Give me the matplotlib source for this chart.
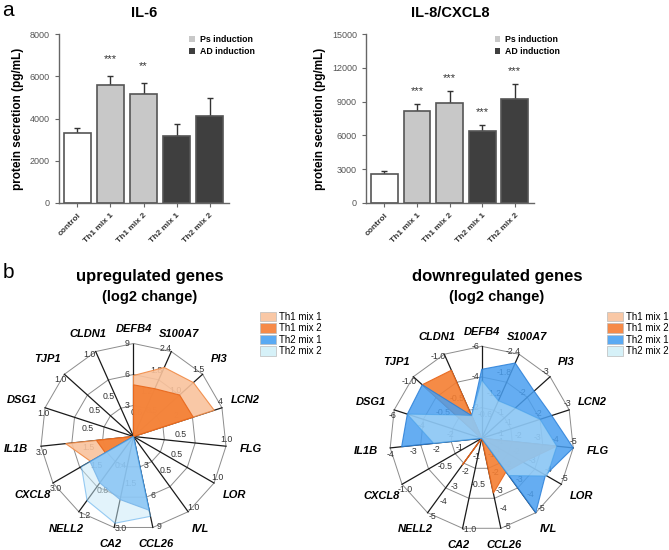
import numpy as np
import matplotlib.pyplot as plt
from matplotlib.patches import Patch

plt.rcParams['font.family'] = ['Liberation Sans', 'DejaVu Sans']

W, H = 669, 550

# ---- panel a: secreted cytokines ----
groups = ['control', 'Th1 mix 1', 'Th1 mix 2', 'Th2 mix 1', 'Th2 mix 2']
bar_colors = ['white', '#c8c8c8', '#c8c8c8', '#3f3f3f', '#3f3f3f']

il6_mean = [3300, 5570, 5150, 3190, 4100]
il6_err = [240, 420, 520, 540, 850]
il6_stars = ['', '***', '**', '', '']

il8_mean = [2560, 8160, 8870, 6430, 9200]
il8_err = [240, 650, 1100, 530, 1360]
il8_stars = ['', '***', '***', '***', '***']

# ---- panel b: radar charts ----
genes = ['DEFB4', 'S100A7', 'PI3', 'LCN2', 'FLG', 'LOR', 'IVL', 'CCL26',
         'CA2', 'NELL2', 'CXCL8', 'IL1B', 'DSG1', 'TJP1', 'CLDN1']
mixes = ['Th1 mix 1', 'Th1 mix 2', 'Th2 mix 1', 'Th2 mix 2']

up_ticks = [['3', '6', '9'], ['0.6', '1.2', '1.8', '2.4'], ['0.5', '1.0', '1.5'],
            ['2', '4'], ['0.5', '1.0'], ['0.5', '1.0'], ['0.5', '1.0'],
            ['3', '6', '9'], ['1.5', '3.0'], ['0.4', '0.8', '1.2'], ['1.5', '3.0'],
            ['1.5', '3.0'], ['0.5', '1.0'], ['0.5', '1.0'], ['0.5', '1.0']]
up_th1_mix1 = [5.9, 1.95, 1.3, 3.65, 0, 0, 0, 0, 0, 0, 1.6, 2.2, 0, 0, 0]
up_th1_mix2 = [5.0, 1.35, 1.0, 2.7, 0, 0, 0, 0, 0, 0, 1.05, 1.2, 0, 0, 0]
up_th2_mix1 = [0, 0, 0, 0, 0, 0, 0, 7.3, 2.08, 0.74, 1.62, 0, 0, 0, 0]
up_th2_mix2 = [0, 0, 0, 0, 0, 0, 0, 7.9, 2.86, 1.02, 1.94, 0, 0, 0, 0]

down_ticks = [['-2', '-4', '-6'], ['-0.6', '-1.2', '-1.8', '-2.4'], ['-1', '-2', '-3'],
              ['-1', '-2', '-3'], ['-1', '-2', '-3', '-4', '-5'],
              ['-1', '-2', '-3', '-4', '-5'], ['-1', '-2', '-3', '-4', '-5'],
              ['-1', '-2', '-3', '-4', '-5'], ['-0.5', '-1.0'],
              ['-1', '-2', '-3', '-4', '-5'], ['-0.5', '-1.0'],
              ['-1', '-2', '-3', '-4'], ['-2', '-4', '-6'], ['-0.5', '-1.0'], ['-0.5', '-1.0']]
down_th1_mix1 = [0, 0, 0, 0, 0, 0, 0, 0, 0, 0, 0, 0, 0, -0.1, -0.3]
down_th1_mix2 = [0, 0, 0, 0, -4.1, -2.6, -2.25, -3.05, 0, -1.8, 0, 0, 0, -0.87, -0.81]
down_th2_mix1 = [-4.5, -2.15, -2.3, -2.4, -5.0, -4.0, -5.0, 0, 0, 0, 0, -3.5, -5.1, -0.87, -0.27]
down_th2_mix2 = [-3.8, -1.07, -1.48, -2.0, -4.1, -4.1, -2.5, 0, 0, 0, 0, -2.1, -5.1, -0.38, -0.27]

mix_face = ['#f9c29c', '#f47e32', '#4a9ff0', '#c6e9f8']
mix_alpha = [0.9, 0.9, 0.85, 0.5]
mix_edge = ['#f08a45', '#e8661a', '#2a7fd8', '#3a9be8']
legend_face = ['#f9c8a6', '#f68a48', '#5aaaf3', '#d6f1f8']


def px_axes(fig, left, top, right, bottom):
    return fig.add_axes([left / W, 1 - bottom / H, (right - left) / W, (bottom - top) / H])


def bar_panel(ax, means, errs, stars, ymax, step, title, star_gap):
    x = np.arange(len(groups))
    ax.bar(x, means, width=0.82, color=bar_colors, edgecolor='#555555', linewidth=1.2, zorder=2)
    ax.errorbar(x, means, yerr=[np.zeros(len(errs)), errs], fmt='none', ecolor='#333333',
                elinewidth=1.0, capsize=2.5, capthick=1.0, zorder=1)
    for xi, m, e, s in zip(x, means, errs, stars):
        if s:
            ax.text(xi, m + e + star_gap, s, ha='center', va='center', fontsize=8, color='#333333')
    ax.set_xlim(-0.56, 4.59)
    ax.set_ylim(0, ymax)
    ax.set_yticks(np.arange(0, ymax + 1, step))
    ax.set_xticks(x)
    ax.set_xticklabels(groups, rotation=45, ha='right', rotation_mode='anchor',
                       fontsize=6, fontweight='bold', color='#333333')
    ax.tick_params(axis='y', labelsize=6.5, labelcolor='#555555', color='#666666', length=3)
    ax.tick_params(axis='x', color='#666666', length=3)
    for side in ['top', 'right']:
        ax.spines[side].set_visible(False)
    for side in ['left', 'bottom']:
        ax.spines[side].set_color('#666666')
        ax.spines[side].set_linewidth(1.0)
    ax.set_ylabel('protein secretion (pg/mL)', fontsize=8.5, fontweight='bold', labelpad=4)
    ax.set_title(title, fontsize=10.5, fontweight='bold', pad=12)
    handles = [Patch(facecolor='#c8c8c8', edgecolor='none'), Patch(facecolor='#3f3f3f', edgecolor='none')]
    ax.legend(handles, ['Ps induction', 'AD induction'], loc='upper left', bbox_to_anchor=(0.72, 1.04),
              frameon=False, handlelength=0.6, handleheight=0.6, handletextpad=0.6,
              labelspacing=0.35, prop={'size': 6.3, 'weight': 'bold'})


def radar_panel(ax, series, ticks):
    n = len(genes)
    ang = np.deg2rad(90 - 360 / n * np.arange(n))
    cx, cy = np.cos(ang), np.sin(ang)
    for f in (1 / 3, 2 / 3, 1):
        ax.plot(np.append(f * cx, f * cx[0]), np.append(f * cy, f * cy[0]),
                color='#8c8c8c', lw=0.7, zorder=1)
    for a, b in zip(cx, cy):
        ax.plot([0, a], [0, b], color='#1a1a1a', lw=0.9, zorder=1)
    scale = np.array([abs(float(t[-1])) for t in ticks])
    for vals, fc, al, ec in zip(series, mix_face, mix_alpha, mix_edge):
        r = np.abs(np.array(vals)) / scale
        ax.fill(r * cx, r * cy, facecolor=fc, alpha=al, edgecolor=ec, lw=0.8, zorder=2)
    for i, tl in enumerate(ticks):
        for t in tl:
            f = abs(float(t)) / scale[i]
            tx = f * cx[i] - 0.07 * cy[i]
            ty = f * cy[i] + 0.07 * cx[i]
            ax.text(tx, ty, t, fontsize=6.3, color='#333333', ha='center', va='center', zorder=1.5)
    for i, g in enumerate(genes):
        rr = 1.16 + 0.11 * abs(cx[i])
        ax.text(rr * cx[i], rr * cy[i], g, fontsize=8, fontweight='bold', fontstyle='italic',
                ha='center', va='center')
    ax.set_xlim(-1.5, 1.5)
    ax.set_ylim(-1.5, 1.5)
    ax.axis('off')


def radar_axes(fig, cx, cy, R):
    h = 1.5 * R
    return px_axes(fig, cx - h, cy - h, cx + h, cy + h)


fig = plt.figure(figsize=(W / 100, H / 100), dpi=100)

ax1 = px_axes(fig, 59, 34, 229, 203)
bar_panel(ax1, il6_mean, il6_err, il6_stars, 8000, 2000, 'IL-6', 800)
ax2 = px_axes(fig, 366, 34, 534, 203)
bar_panel(ax2, il8_mean, il8_err, il8_stars, 15000, 3000, 'IL-8/CXCL8', 1150)

ax3 = radar_axes(fig, 133.5, 436.5, 93)
radar_panel(ax3, [up_th1_mix1, up_th1_mix2, up_th2_mix1, up_th2_mix2], up_ticks)
ax4 = radar_axes(fig, 481.7, 438.3, 92)
radar_panel(ax4, [down_th1_mix1, down_th1_mix2, down_th2_mix1, down_th2_mix2], down_ticks)

leg_handles = [Patch(facecolor=c, edgecolor='#bbbbbb', linewidth=0.5) for c in legend_face]
for lx in (256, 603):
    fig.legend(leg_handles, mixes, loc='upper left', bbox_to_anchor=(lx / W, 1 - 308 / H),
               frameon=False, fontsize=7, handlelength=1.7, handleheight=1.1,
               handletextpad=0.3, labelspacing=0.15, borderaxespad=0)

fig.text(150 / W, 1 - 276 / H, 'upregulated genes', ha='center', va='center', fontsize=12, fontweight='bold')
fig.text(150 / W, 1 - 297 / H, '(log2 change)', ha='center', va='center', fontsize=10.5, fontweight='bold')
fig.text(497 / W, 1 - 276 / H, 'downregulated genes', ha='center', va='center', fontsize=12, fontweight='bold')
fig.text(497 / W, 1 - 297 / H, '(log2 change)', ha='center', va='center', fontsize=10.5, fontweight='bold')

fig.text(8 / W, 1 - 10 / H, 'a', ha='center', va='center', fontsize=15)
fig.text(8 / W, 1 - 272 / H, 'b', ha='center', va='center', fontsize=15)

fig.savefig('out.png', dpi=100)
